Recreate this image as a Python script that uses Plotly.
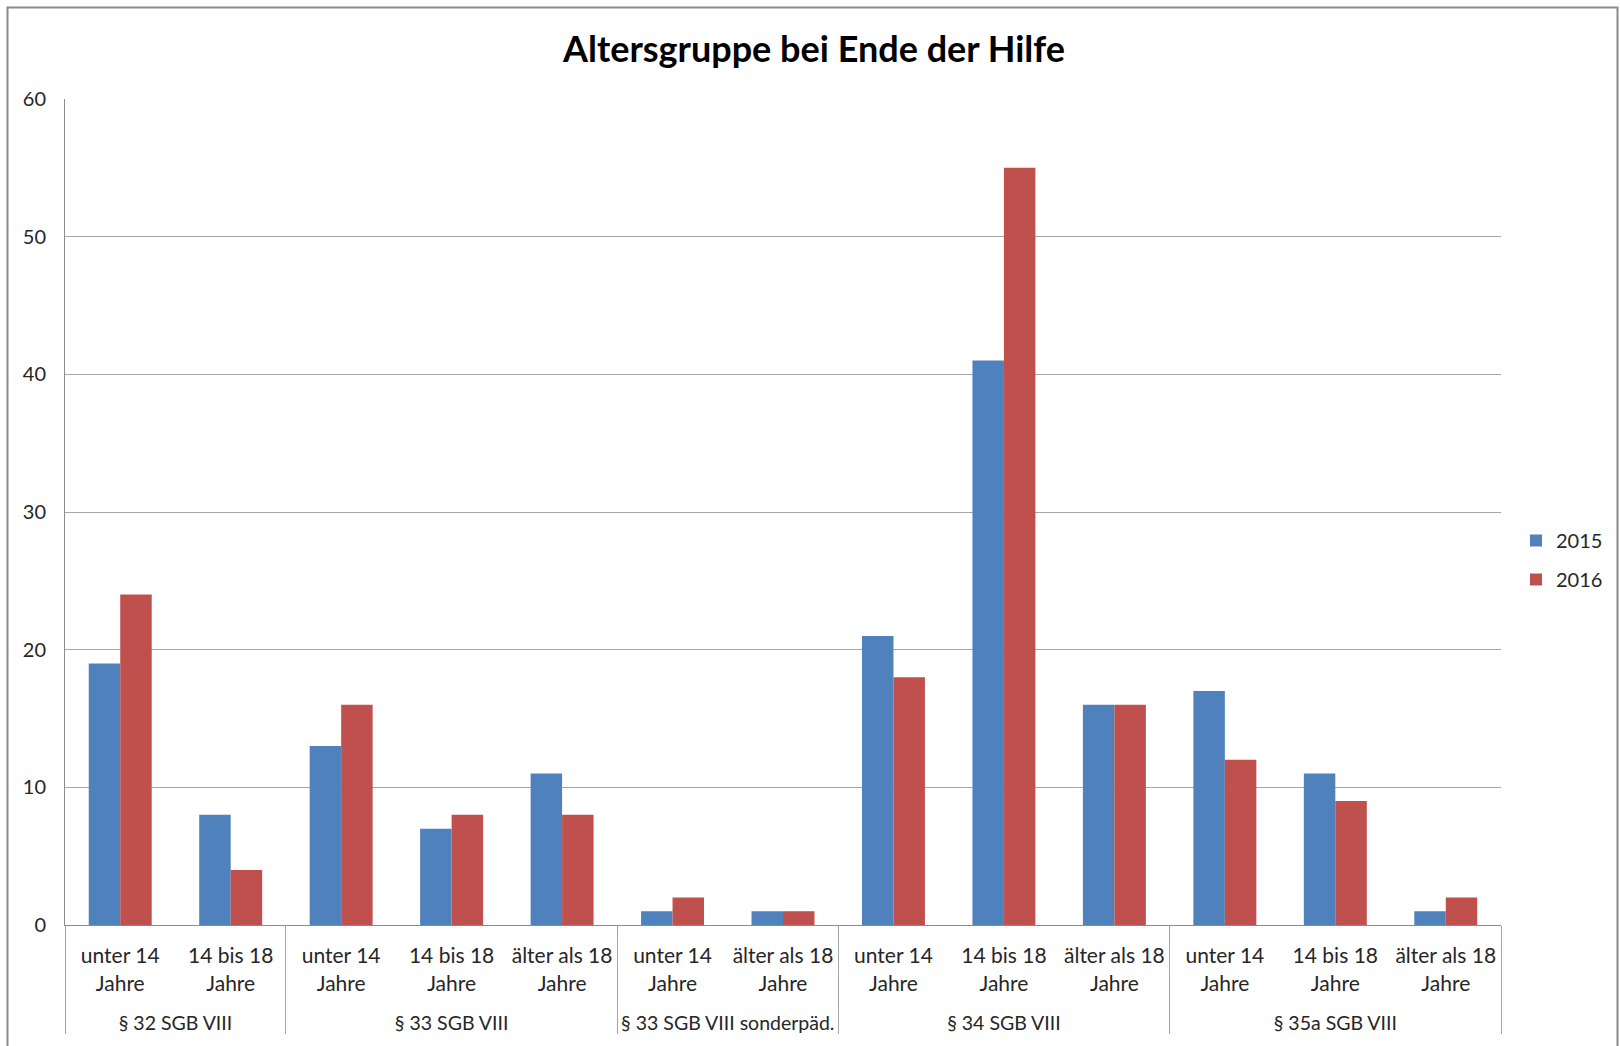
import plotly.graph_objects as go

groups = ["§ 32 SGB VIII", "§ 32 SGB VIII",
          "§ 33 SGB VIII", "§ 33 SGB VIII", "§ 33 SGB VIII",
          "§ 33 SGB VIII sonderpäd.", "§ 33 SGB VIII sonderpäd.",
          "§ 34 SGB VIII", "§ 34 SGB VIII", "§ 34 SGB VIII",
          "§ 35a SGB VIII", "§ 35a SGB VIII", "§ 35a SGB VIII"]
ages = ["unter 14<br>Jahre", "14 bis 18<br>Jahre",
        "unter 14<br>Jahre", "14 bis 18<br>Jahre", "älter als 18<br>Jahre",
        "unter 14<br>Jahre", "älter als 18<br>Jahre",
        "unter 14<br>Jahre", "14 bis 18<br>Jahre", "älter als 18<br>Jahre",
        "unter 14<br>Jahre", "14 bis 18<br>Jahre", "älter als 18<br>Jahre"]
v2015 = [19, 8, 13, 7, 11, 1, 1, 21, 41, 16, 17, 11, 1]
v2016 = [24, 4, 16, 8, 8, 2, 1, 18, 55, 16, 12, 9, 2]
years = ["2015", "2016"]
colors = ["#4F81BD", "#C0504D"]

# trailing small spacer line pushes the group level further down
spacer = "<br><span style='font-size:4px'> </span>"
age_labels = [a + spacer for a in ages]
group_labels = ["<span style='font-size:19.5px'>" + g + "</span>" for g in groups]

FONT = "Lato"
fig = go.Figure()
for i, (name, vals) in enumerate(zip(years, [v2015, v2016])):
    fig.add_trace(go.Bar(x=[group_labels, age_labels], y=vals, name=name,
                         marker=dict(color=colors[i], line=dict(width=0)),
                         legendgroup=name))

L, R, T, B = 65, 1501, 99, 925
W, H = 1620, 1046
pw, ph = R - L, B - T

def px(x):
    return (x - L) / pw

def py(y):
    return (B - y) / ph

fig.update_layout(
    width=W, height=H,
    margin=dict(l=L, r=W - R, t=T, b=H - B, pad=0, autoexpand=False),
    paper_bgcolor="white", plot_bgcolor="white",
    font=dict(family=FONT, size=20, color="#262626"),
    title=dict(text="<b>Altersgruppe bei Ende der Hilfe</b>",
               x=814 / W, xanchor="center", y=1 - 49 / H, yanchor="middle",
               font=dict(family=FONT, size=36, color="#000000")),
    barmode="group", bargap=0.43, bargroupgap=0,
    showlegend=True,
    legend=dict(xref="container", yref="container",
                x=1516 / W, xanchor="left", y=1 - 560 / H, yanchor="middle",
                font=dict(family=FONT, size=20, color="#262626"),
                tracegroupgap=10, traceorder="grouped", itemwidth=30,
                bgcolor="rgba(0,0,0,0)"),
    xaxis=dict(type="multicategory", showline=True, linecolor="#8c8c8c", linewidth=1,
               ticks="", showdividers=True, dividercolor="#a6a6a6", dividerwidth=1,
               ticklabelstandoff=12,
               tickfont=dict(family=FONT, size=21, color="#262626"),
               showgrid=False),
    yaxis=dict(range=[0, 60], dtick=10, showgrid=True, gridcolor="#a6a6a6", gridwidth=1,
               showline=True, linecolor="#8c8c8c", linewidth=1, ticks="",
               ticklabelstandoff=14, zeroline=False,
               tickfont=dict(family=FONT, size=20, color="#262626")),
    shapes=[dict(type="rect", xref="paper", yref="paper",
                 x0=px(7.5), x1=px(1617.5), y0=py(1060), y1=py(7.5),
                 line=dict(color="#8a8a8a", width=2), fillcolor="rgba(0,0,0,0)",
                 layer="below")],
)

fig.write_html("out.html")
